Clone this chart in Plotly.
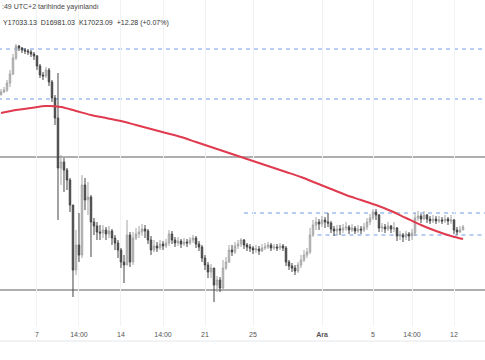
import plotly.graph_objects as go

# ---- data ----
first_open = 17155
close = [17158,17160,17167,17176,17192,17204,17202,17200,17199,17198,
         17196,17194,17184,17175,17174,17180,17168,17152,17132,17082,
         17088,17080,17070,17045,16980,17005,16995,17065,17050,17053,
         17028,17024,17018,17017,17020,17016,17019,17012,17007,17000,
         16988,16985,17015,16988,17012,17016,17018,17021,17019,17010,
         17000,17004,17002,17006,17004,17007,17016,17010,17007,17009,
         17006,17008,17007,17010,17012,17006,17003,16992,16985,16978,
         16982,16965,16970,16962,16982,16988,17000,16998,17004,17006,
         17010,17005,17003,17002,17000,17001,16999,17002,17003,17005,
         17002,17003,17002,17004,17002,16988,16984,16982,16979,16985,
         16990,16995,16998,17015,17025,17028,17026,17030,17028,17027,
         17021,17019,17021,17020,17022,17023,17020,17022,17019,17021,
         17020,17023,17028,17032,17038,17035,17022,17023,17021,17024,
         17021,17022,17014,17015,17013,17016,17014,17017,17032,17034,
         17031,17035,17031,17029,17031,17029,17030,17029,17031,17029,
         17030,17020,17018,17020,17023]
high = [17161,17163,17170,17180,17196,17206,17205,17203,17202,17201,
        17200,17198,17195,17186,17178,17183,17182,17170,17155,17177,
        17095,17092,17082,17072,17045,17020,17037,17075,17072,17068,
        17055,17032,17028,17025,17025,17023,17024,17021,17015,17010,
        17002,16995,17030,17018,17018,17022,17024,17026,17025,17021,
        17014,17010,17008,17010,17009,17011,17020,17019,17013,17013,
        17011,17012,17011,17013,17015,17014,17009,17005,16995,16988,
        16986,16982,16974,16973,16990,16993,17005,17005,17008,17010,
        17012,17011,17007,17006,17004,17005,17004,17006,17007,17008,
        17007,17006,17006,17007,17006,17004,16990,16987,16985,16988,
        16995,17000,17002,17022,17030,17033,17031,17034,17033,17037,
        17029,17024,17025,17025,17026,17028,17025,17026,17024,17025,
        17024,17027,17032,17036,17041,17041,17036,17027,17026,17028,
        17025,17028,17023,17019,17017,17019,17018,17021,17037,17039,
        17036,17039,17036,17034,17035,17034,17034,17033,17035,17033,
        17035,17031,17023,17024,17025]
low = [17155,17157,17158,17163,17175,17190,17199,17197,17196,17195,
       17193,17190,17180,17172,17170,17172,17164,17148,17125,17030,
       17065,17058,17060,17038,16953,16975,16988,16992,17040,17035,
       16993,17015,17010,17010,17012,17010,17012,17005,17000,16992,
       16982,16967,16985,16983,16985,17010,17012,17014,17012,17006,
       16995,16998,16998,17000,17000,17002,17004,17006,17003,17004,
       17002,17004,17003,17005,17007,17002,16999,16988,16980,16972,
       16972,16948,16958,16958,16960,16980,16987,16994,16996,17001,
       17003,17001,16999,16998,16996,16997,16995,16998,17000,17001,
       16999,17000,16999,17000,16999,16984,16980,16978,16975,16977,
       16982,16988,16992,16996,17013,17020,17020,17023,17022,17023,
       17017,17014,17015,17015,17017,17019,17016,17018,17016,17017,
       17016,17018,17020,17025,17030,17030,17018,17018,17017,17019,
       17017,17018,17009,17010,17008,17010,17009,17010,17014,17029,
       17027,17030,17027,17026,17027,17026,17027,17026,17027,17025,
       17026,17016,17015,17017,17020]
opens = [first_open] + close[:-1]
bar_idx = list(range(len(close)))

ma_idx = [0,5,10,15,20,25,30,35,40,45,50,55,60,65,70,75,80,85,90,95,
          100,105,110,115,120,125,130,135,140,145,150,154]
ma_vals = [17137,17140,17142,17144,17143,17139,17135,17132,17129,17125,
           17121,17117,17113,17108,17103,17098,17093,17088,17083,17078,
           17073,17067,17061,17055,17050,17045,17039,17032,17025,17019,
           17014,17011]

tick_idx = [12, 26, 40, 54, 68, 84, 107, 124, 137, 151]
tick_text = ["7", "14:00", "14", "14:00", "21", "25", "<b>Ara</b>", "5", "14:00", "12"]

dashed_levels = [17201, 17151, 17037, 17015]
dashed_start = [-1, -1, 81, 105.5]
solid_levels = [17093, 16960]

header1 = ":49 UTC+2 tarihinde yayınlandı"
header2 = "Y17033.13  D16981.03  K17023.09  +12.28 (+0.07%)"

# ---- figure ----
fig = go.Figure()

x_max = 161.33
for lvl, x0 in zip(dashed_levels, dashed_start):
    fig.add_shape(type="line", xref="x", yref="y", x0=x0, x1=x_max + 1, y0=lvl, y1=lvl,
                  line=dict(color="#6f9ae6", width=1, dash="4px,4px"), layer="below")
for lvl in solid_levels:
    fig.add_shape(type="line", xref="x", yref="y", x0=-1, x1=x_max + 1, y0=lvl, y1=lvl,
                  line=dict(color="#5e5e5e", width=1), layer="below")

fig.add_trace(go.Candlestick(
    x=bar_idx, open=opens, high=high, low=low, close=close,
    increasing=dict(line=dict(color="#a4a4a4", width=1), fillcolor="#d2d2d2"),
    decreasing=dict(line=dict(color="#444444", width=1), fillcolor="#5a5a5a"),
    whiskerwidth=0, showlegend=False, hoverinfo="skip"))

fig.add_trace(go.Scatter(x=ma_idx, y=ma_vals, mode="lines",
                         line=dict(color="#e03a4e", width=2, shape="spline"),
                         showlegend=False, hoverinfo="skip"))

fig.add_annotation(xref="paper", yref="paper", x=0, y=1 - 7 / 326, xanchor="left", yanchor="middle",
                   text=header1, showarrow=False,
                   font=dict(family="Liberation Sans", size=7, color="#444444"))
fig.add_annotation(xref="paper", yref="paper", x=0.002, y=1 - 23 / 326, xanchor="left", yanchor="middle",
                   text=header2, showarrow=False,
                   font=dict(family="Liberation Sans", size=7, color="#333333"))

# bottom border of time axis
fig.add_shape(type="line", xref="paper", yref="paper", x0=0, x1=1, y0=-15 / 326, y1=-15 / 326,
              line=dict(color="#e4e6eb", width=1))

fig.update_layout(
    width=485, height=360,
    margin=dict(l=0, r=0, t=0, b=34),
    paper_bgcolor="white", plot_bgcolor="white",
    xaxis=dict(range=[-0.33, x_max], rangeslider=dict(visible=False),
               tickmode="array", tickvals=tick_idx, ticktext=tick_text,
               showgrid=True, gridcolor="#f0f2f5", gridwidth=1,
               zeroline=False, showline=False, ticks="", ticklabelstandoff=3,
               tickfont=dict(family="Liberation Sans", size=7, color="#555555")),
    yaxis=dict(range=[16924, 17250], showticklabels=False, showgrid=False,
               zeroline=False, showline=False, ticks=""),
)

fig.write_html("out.html", config={"displayModeBar": False},
               post_script="document.body.style.margin='0';document.body.style.padding='0';"
                           "document.body.style.overflow='hidden';")
